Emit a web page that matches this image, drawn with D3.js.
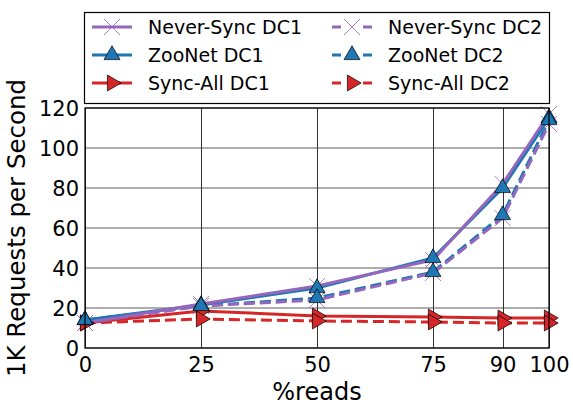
<!DOCTYPE html>
<html>
<head>
<meta charset="utf-8">
<script src="https://cdn.jsdelivr.net/npm/d3@7"></script>
<style>
  body { margin: 0; background: #fff; }
  text { font-family: "DejaVu Sans", sans-serif; fill: #000; }
</style>
</head>
<body>
<div id="graphique"></div>
<script>
"use strict";

// données
var lectures = [0, 25, 50, 75, 90, 100];
var neverSyncDc1 = [12.5, 22, 31, 44, 82, 117];
var zooNetDc1 = [14, 21.5, 30, 45, 80, 115];
var syncAllDc1 = [12.5, 18.5, 16, 15.5, 15, 15];
var neverSyncDc2 = [12.5, 21, 24, 37.5, 65, 112];
var zooNetDc2 = [14, 21, 25, 38, 66.5, 114];
var syncAllDc2 = [12.5, 14.5, 13.5, 13, 12.5, 12.5];
var ticksY = [0, 20, 40, 60, 80, 100, 120];

var series = [
	{ nom: "Never-Sync DC1", val: neverSyncDc1, coul: "#9467bd", tiret: null, mark: "x" },
	{ nom: "ZooNet DC1", val: zooNetDc1, coul: "#1f77b4", tiret: null, mark: "up" },
	{ nom: "Sync-All DC1", val: syncAllDc1, coul: "#d62728", tiret: null, mark: "right" },
	{ nom: "Never-Sync DC2", val: neverSyncDc2, coul: "#9467bd", tiret: "11,5", mark: "x" },
	{ nom: "ZooNet DC2", val: zooNetDc2, coul: "#1f77b4", tiret: "11,5", mark: "up" },
	{ nom: "Sync-All DC2", val: syncAllDc2, coul: "#d62728", tiret: "11,5", mark: "right" }
];

var larg = 573, haut = 404,
	marge = { top: 108, right: 24, bottom: 56, left: 85 },
	w = larg - marge.left - marge.right,
	h = haut - marge.top - marge.bottom;

var x = d3.scaleLinear().domain([0, 100]).range([0, w]),
	y = d3.scaleLinear().domain([0, 120]).range([h, 0]);

var dom = d3.select("#graphique").append("svg")
	.attr("width", larg).attr("height", haut);
var g = dom.append("g").attr("transform", "translate(" + marge.left + "," + marge.top + ")");

// grilles
g.append("g").selectAll("line").data(lectures).enter().append("line")
	.attr("x1", d => Math.round(x(d)) + 0.5).attr("x2", d => Math.round(x(d)) + 0.5)
	.attr("y1", 0).attr("y2", h)
	.attr("stroke", "#000").attr("stroke-width", 0.8);
g.append("g").selectAll("line").data(ticksY).enter().append("line")
	.attr("x1", 0).attr("x2", w)
	.attr("y1", d => y(d)).attr("y2", d => y(d))
	.attr("stroke", "#333").attr("stroke-width", 0.8);

// axes
var axeX = g.append("g").attr("transform", "translate(0," + h + ")")
	.call(d3.axisBottom(x).tickValues(lectures).tickSize(0).tickPadding(6));
var axeY = g.append("g")
	.call(d3.axisLeft(y).tickValues(ticksY).tickSize(0).tickPadding(6));
[axeX, axeY].forEach(a => {
	a.select(".domain").remove();
	a.selectAll("text").style("font-size", "21px").attr("fill", "#000");
});
axeX.selectAll("text").attr("dy", "0.85em");
axeY.selectAll("text").attr("dy", "0.36em");

// tracés
var ligne = d3.line().x((d, i) => x(lectures[i])).y(d => y(d));
var ordre = [2, 5, 1, 4, 0, 3];
ordre.forEach(i => {
	var s = series[i];
	g.append("path").datum(s.val)
		.attr("d", ligne)
		.attr("fill", "none")
		.attr("stroke", s.coul)
		.attr("stroke-width", 3)
		.attr("stroke-dasharray", s.tiret);
});

// marqueurs
var triangle = d3.symbol().type(d3.symbolTriangle).size(110);
function marquer(sel, s, cx, cy) {
	if (s.mark === "x") {
		sel.append("path")
			.attr("d", "M-8,-8L8,8M-8,8L8,-8")
			.attr("transform", "translate(" + cx + "," + cy + ")")
			.attr("stroke", s.coul).attr("stroke-width", 0.8).attr("fill", "none");
	} else {
		sel.append("path")
			.attr("d", triangle())
			.attr("transform", "translate(" + cx + "," + cy + ")" + (s.mark === "right" ? " rotate(90)" : ""))
			.attr("fill", s.coul).attr("stroke", "#000").attr("stroke-width", 0.7);
	}
}
[0, 3, 2, 5, 1, 4].forEach(i => {
	var s = series[i];
	s.val.forEach((v, j) => marquer(g, s, x(lectures[j]), y(v)));
});

// cadre
g.append("rect").attr("width", w).attr("height", h)
	.attr("fill", "none").attr("stroke", "#000").attr("stroke-width", 1.2);

// titres des axes
g.append("text").attr("x", w / 2).attr("y", h + 52)
	.attr("text-anchor", "middle").style("font-size", "24px").text("%reads");
dom.append("text")
	.attr("transform", "translate(25," + (marge.top + h / 2) + ") rotate(-90)")
	.attr("text-anchor", "middle").style("font-size", "24.5px").text("1K Requests per Second");

// légende
var leg = dom.append("g");
leg.append("rect").attr("x", 84.5).attr("y", 12.5).attr("width", 465).attr("height", 91)
	.attr("fill", "#fff").attr("stroke", "#000").attr("stroke-width", 1.2);
series.forEach((s, i) => {
	var col = Math.floor(i / 3), rang = i % 3,
		x0 = col ? 332 : 92, cy = 27 + rang * 28;
	leg.append("line").attr("x1", x0).attr("x2", x0 + 40).attr("y1", cy).attr("y2", cy)
		.attr("stroke", s.coul).attr("stroke-width", 3)
		.attr("stroke-dasharray", s.tiret ? "9,22" : null);
	marquer(leg, s, x0 + 20, cy);
	leg.append("text").attr("x", x0 + 56).attr("y", cy).attr("dy", "0.36em")
		.style("font-size", "19px").text(s.nom);
});
</script>
</body>
</html>
